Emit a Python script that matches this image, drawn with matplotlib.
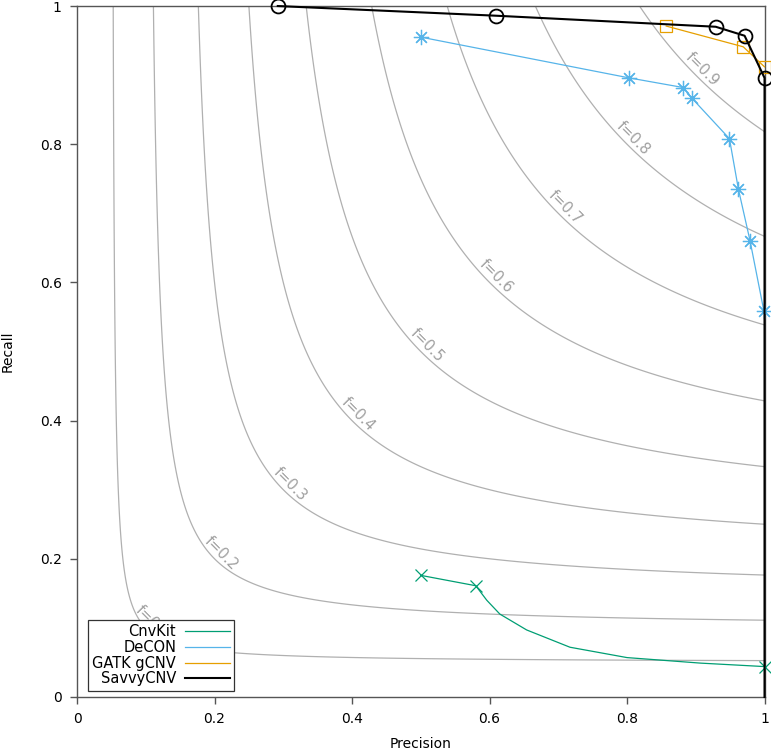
import numpy as np
import matplotlib
matplotlib.use("Agg")
import matplotlib.pyplot as plt
import matplotlib.transforms as mtransforms

# ── Data ─────────────────────────────────────────────────────────────────────
F_LEVELS = [0.1, 0.2, 0.3, 0.4, 0.5, 0.6, 0.7, 0.8, 0.9]

cnvkit_p = [0.500, 0.580, 0.596, 0.615, 0.654, 0.717, 0.800, 0.907, 1.000]
cnvkit_r = [0.176, 0.161, 0.140, 0.120, 0.097, 0.072, 0.057, 0.049, 0.044]
cnvkit_marks = [0, 1, 8]

decon_p = [0.500, 0.803, 0.882, 0.894, 0.949, 0.962, 0.979, 0.999]
decon_r = [0.955, 0.896, 0.882, 0.867, 0.808, 0.735, 0.660, 0.559]

gatk_p = [0.857, 0.969, 1.000]
gatk_r = [0.971, 0.941, 0.912]

savvy_p = [0.292, 0.609, 0.929, 0.971, 1.000, 1.000]
savvy_r = [1.000, 0.986, 0.970, 0.957, 0.896, 0.000]
savvy_marks = [0, 1, 2, 3, 4]

TICKS = [0, 0.2, 0.4, 0.6, 0.8, 1]
TICK_LABELS = ["0", "0.2", "0.4", "0.6", "0.8", "1"]

plt.rcParams["font.family"] = ["DejaVu Sans"]

fig = plt.figure(figsize=(7.71, 7.53), dpi=100)
ax = fig.add_axes([0.0999, 0.0744, 0.8917, 0.9176])

# ── iso-F contours (labels sit just outside the curve, gnuplot style) ────────
g = np.linspace(0.001, 1, 600)
P, R = np.meshgrid(g, g)
F = 2 * P * R / (P + R)
cs = ax.contour(P, R, F, levels=F_LEVELS, colors="#b0b0b0", linewidths=0.9)
texts = ax.clabel(cs, fmt=lambda v: f"f={v:g}", inline=False,
                  fontsize=10.5, colors="#a0a0a0", manual=[(f, f) for f in F_LEVELS])
shift = mtransforms.ScaledTranslation(0.065, 0.06, fig.dpi_scale_trans)
for t in texts:
    t.set_transform(t.get_transform() + shift)

# ── Tool curves ──────────────────────────────────────────────────────────────
ax.plot(cnvkit_p, cnvkit_r, color="#009e73", lw=0.9, marker="x", ms=9, mew=0.9,
        markevery=cnvkit_marks, clip_on=False, label="CnvKit", zorder=5)
ax.plot(decon_p, decon_r, color="#56b4e9", lw=0.9, marker=(8, 2, 0), ms=11, mew=0.9,
        clip_on=False, label="DeCON", zorder=5)
ax.plot(gatk_p, gatk_r, color="#e69f00", lw=0.9, marker="s", ms=9, mew=0.9,
        mfc="none", clip_on=False, label="GATK gCNV", zorder=5)
ax.plot(savvy_p, savvy_r, color="black", lw=1.5, marker="o", ms=10, mew=1.3,
        mfc="none", markevery=savvy_marks, clip_on=False, label="SavvyCNV", zorder=6)

ax.set_xlim(0, 1)
ax.set_ylim(0, 1)
ax.set_xticks(TICKS)
ax.set_xticklabels(TICK_LABELS)
ax.set_yticks(TICKS)
ax.set_yticklabels(TICK_LABELS)
ax.tick_params(direction="out", length=5, width=1, color="#555555", labelsize=10, pad=6)
for s in ax.spines.values():
    s.set_color("#555555")
    s.set_linewidth(1)
ax.set_xlabel("Precision", fontsize=10, labelpad=8)
ax.set_ylabel("Recall", fontsize=10, labelpad=18)

leg = ax.legend(loc="lower left", bbox_to_anchor=(0.016, 0.009), markerfirst=False,
                handlelength=3.1, handletextpad=0.6, borderpad=0.3, labelspacing=0.05,
                fancybox=False, framealpha=1, edgecolor="#333333", fontsize=10.5,
                borderaxespad=0)
leg.get_frame().set_linewidth(0.9)
leg.set_zorder(10)
for h in leg.legend_handles:
    h.set_marker("")

fig.savefig("out.png", dpi=100)
